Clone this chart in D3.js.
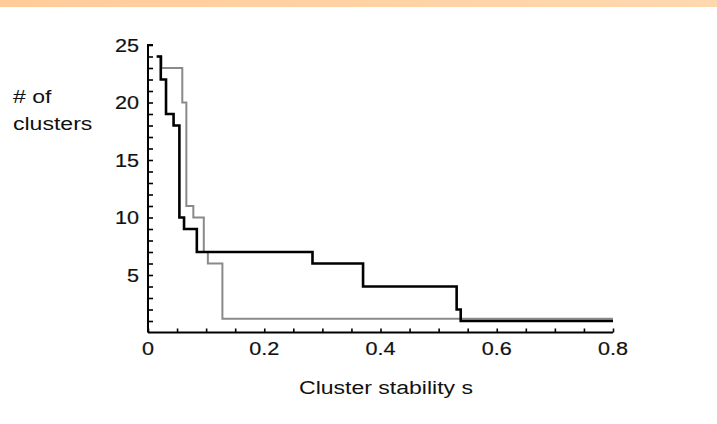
<!DOCTYPE html>
<html><head><meta charset="utf-8">
<script src="https://cdn.jsdelivr.net/npm/d3@7"></script>
<style>html,body{margin:0;padding:0;background:#fff;}svg{display:block;}</style>
</head><body>
<script>
// Data: step functions (x where the level starts, level value)
const blackX = [0.015, 0.022, 0.031, 0.044, 0.054, 0.062, 0.084, 0.283, 0.370, 0.531, 0.538];
const blackY = [24, 22, 19, 18, 10, 9, 7, 6, 4, 2, 1];
const grayX = [0.015, 0.023, 0.059, 0.066, 0.078, 0.096, 0.103, 0.128];
const grayY = [24, 23, 20, 11, 10, 7, 6, 1.2];
const xEnd = 0.8;
const xTicks = [0, 0.2, 0.4, 0.6, 0.8];
const xTickLabels = ["0", "0.2", "0.4", "0.6", "0.8"];
const yTicks = [5, 10, 15, 20, 25];
const yTickLabels = ["5", "10", "15", "20", "25"];

const W = 717, H = 424;
const svg = d3.select("body").append("svg").attr("width", W).attr("height", H);
const defs = svg.append("defs");
const grad = defs.append("linearGradient").attr("id", "band");
grad.append("stop").attr("offset", "0%").attr("stop-color", "#ffcc99");
grad.append("stop").attr("offset", "100%").attr("stop-color", "#ffd8b0");
svg.append("rect").attr("x", 0).attr("y", 0).attr("width", W).attr("height", 7).attr("fill", "url(#band)");

const x = d3.scaleLinear().domain([0, 0.8]).range([148, 613]);
const y = d3.scaleLinear().domain([0, 25]).range([332.5, 45]);

const font = "'Liberation Sans', Arial, Helvetica, sans-serif";
const sx = 1.2;

// Axes
const gx = svg.append("g").attr("transform", `translate(0,${y(0)})`)
  .call(d3.axisTop(x).tickValues(d3.range(0, 0.8001, 0.05)).tickSize(4).tickFormat(""));
const gy = svg.append("g").attr("transform", `translate(${x(0)},0)`)
  .call(d3.axisRight(y).tickValues(d3.range(1, 25.001, 1)).tickSize(5).tickFormat(""));
[gx, gy].forEach(g => {
  g.select(".domain").attr("stroke", "#000").attr("stroke-width", 2);
  g.selectAll(".tick line").attr("stroke", "#000").attr("stroke-width", 1.6);
});
gy.select(".domain").attr("d", `M5,${y(25)}H0V${y(0)}`);
gx.select(".domain").attr("d", `M${x(0)},0H${x(0.8)}`);

// Tick labels
xTicks.forEach((v, i) => {
  const tx = x(v), ty = 355;
  svg.append("text").attr("transform", `translate(${tx},${ty}) scale(${sx},1)`)
    .attr("text-anchor", "middle").attr("font-family", font).attr("font-size", 18)
    .attr("fill", "#111").attr("stroke", "#111").attr("stroke-width", 0.2).text(xTickLabels[i]);
});
yTicks.forEach((v, i) => {
  svg.append("text").attr("transform", `translate(139,${y(v) + 6.5}) scale(${sx},1)`)
    .attr("text-anchor", "end").attr("font-family", font).attr("font-size", 18)
    .attr("fill", "#111").attr("stroke", "#111").attr("stroke-width", 0.2).text(yTickLabels[i]);
});

// Axis titles
const st = 1.28;
svg.append("text").attr("transform", `translate(13,103) scale(${st},1)`)
  .attr("font-family", font).attr("font-size", 18).attr("fill", "#111").text("# of");
svg.append("text").attr("transform", `translate(13,130) scale(${st},1)`)
  .attr("font-family", font).attr("font-size", 18).attr("fill", "#111").text("clusters");
svg.append("text").attr("transform", `translate(386,394) scale(${st},1)`)
  .attr("text-anchor", "middle").attr("font-family", font).attr("font-size", 18)
  .attr("fill", "#111").text("Cluster stability s");

// Step lines
function stepData(xs, ys) {
  const pts = xs.map((v, i) => [v, ys[i]]);
  pts.push([xEnd, ys[ys.length - 1]]);
  return pts;
}
const line = d3.line().x(d => x(d[0])).y(d => y(d[1])).curve(d3.curveStepAfter);
svg.append("path").datum(stepData(grayX, grayY)).attr("d", line)
  .attr("fill", "none").attr("stroke", "#8a8a8a").attr("stroke-width", 2);
svg.append("path").datum(stepData(blackX, blackY)).attr("d", line)
  .attr("fill", "none").attr("stroke", "#000").attr("stroke-width", 2.6);
</script>
</body></html>
